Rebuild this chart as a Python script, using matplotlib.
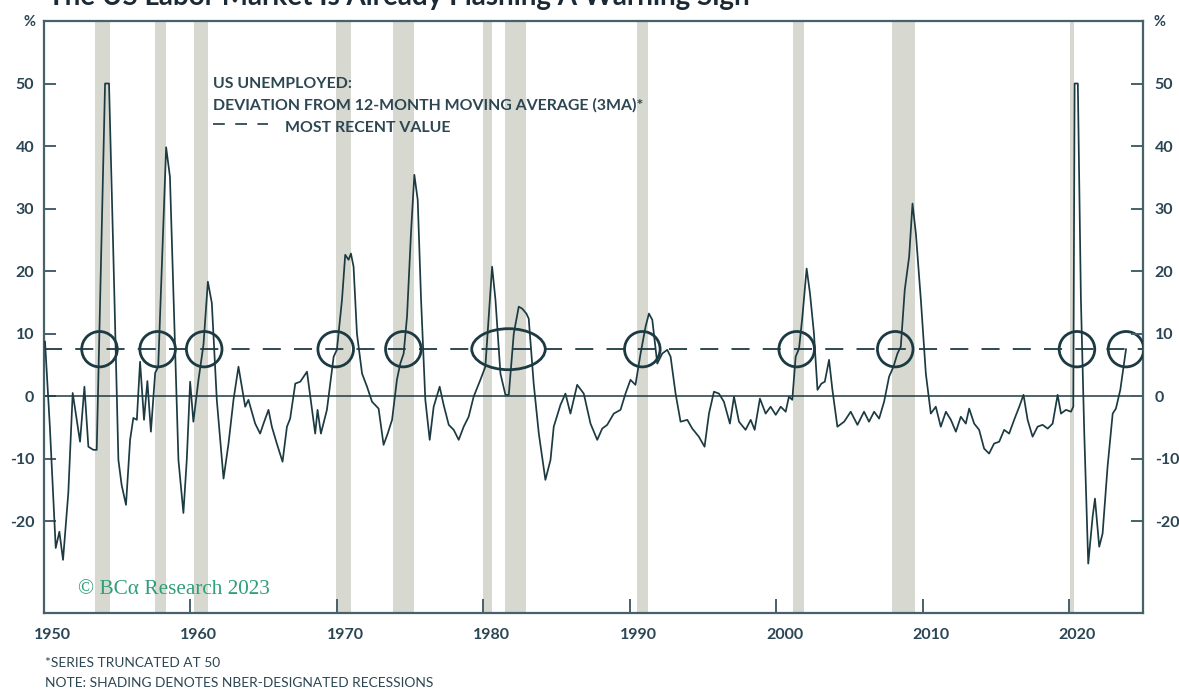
import matplotlib
matplotlib.use("Agg")
import matplotlib.pyplot as plt
from matplotlib.patches import Ellipse
from matplotlib.lines import Line2D
from matplotlib.transforms import ScaledTranslation

# US unemployed: deviation from 12-month moving average (3MA), % ; truncated at 50
years = [
    1950.07, 1950.40, 1950.80, 1951.05, 1951.30, 1951.66, 1951.96, 1952.46, 1952.76, 1953.03,
    1953.37, 1953.60, 1954.17, 1954.44, 1954.74, 1955.08, 1955.30, 1955.60, 1955.88, 1956.10,
    1956.34, 1956.56, 1956.83, 1957.06, 1957.30, 1957.59, 1957.80, 1958.34, 1958.60, 1958.84,
    1959.18, 1959.52, 1959.75, 1959.98, 1960.20, 1960.55, 1960.89, 1961.19, 1961.46, 1961.80,
    1962.26, 1962.60, 1962.94, 1963.28, 1963.74, 1963.96, 1964.42, 1964.76, 1964.99, 1965.33,
    1965.56, 1965.90, 1966.29, 1966.59, 1966.81, 1967.16, 1967.50, 1967.96, 1968.52, 1968.68,
    1968.91, 1969.32, 1969.78, 1970.00, 1970.35, 1970.57, 1970.80, 1970.96, 1971.14, 1971.37,
    1971.72, 1972.06, 1972.40, 1972.85, 1973.19, 1973.47, 1973.77, 1974.10, 1974.33, 1974.56,
    1974.79, 1975.06, 1975.29, 1975.52, 1975.75, 1976.04, 1976.34, 1976.61, 1977.02, 1977.29,
    1977.64, 1977.98, 1978.32, 1978.66, 1979.00, 1979.34, 1979.80, 1980.14, 1980.37, 1980.60,
    1980.83, 1981.17, 1981.51, 1981.74, 1982.08, 1982.42, 1982.65, 1982.94, 1983.10, 1983.44,
    1983.79, 1984.24, 1984.59, 1984.81, 1985.27, 1985.61, 1985.95, 1986.41, 1986.86, 1987.32,
    1987.78, 1988.12, 1988.46, 1988.91, 1989.37, 1989.71, 1990.05, 1990.39, 1990.74, 1991.08,
    1991.31, 1991.54, 1991.88, 1992.22, 1992.56, 1992.79, 1993.13, 1993.47, 1993.93, 1994.27,
    1994.72, 1995.11, 1995.41, 1995.75, 1996.09, 1996.43, 1996.84, 1997.12, 1997.46, 1997.91,
    1998.26, 1998.53, 1998.89, 1999.28, 1999.62, 1999.97, 2000.31, 2000.65, 2000.87, 2001.10,
    2001.33, 2001.56, 2001.79, 2002.08, 2002.31, 2002.58, 2002.82, 2003.09, 2003.32, 2003.61,
    2003.84, 2004.18, 2004.64, 2005.09, 2005.55, 2006.00, 2006.34, 2006.69, 2007.03, 2007.37,
    2007.71, 2008.01, 2008.28, 2008.51, 2008.78, 2009.08, 2009.31, 2009.54, 2009.88, 2010.22,
    2010.56, 2010.90, 2011.24, 2011.59, 2011.93, 2012.27, 2012.61, 2012.95, 2013.18, 2013.52,
    2013.86, 2014.20, 2014.54, 2014.88, 2015.23, 2015.57, 2015.91, 2016.25, 2016.60, 2016.89,
    2017.17, 2017.51, 2017.85, 2018.19, 2018.54, 2018.88, 2019.22, 2019.45, 2019.79, 2020.13,
    2020.29, 2020.38, 2020.60, 2020.81, 2021.04, 2021.31, 2021.61, 2021.77, 2022.06, 2022.29,
    2022.63, 2022.98, 2023.20, 2023.50, 2023.89,
]
deviation = [
    8.7, -4.9, -24.3, -21.7, -26.2, -15.5, 0.5, -7.3, 1.5, -8.1,
    -8.6, -8.6, 50.0, 50.0, 22.3, -10.2, -14.2, -17.4, -7.0, -3.5,
    -3.8, 5.5, -3.8, 2.4, -5.7, 3.7, 4.7, 39.8, 35.1, 16.5,
    -10.2, -18.7, -10.2, 2.3, -4.1, 2.6, 8.2, 18.3, 14.9, -0.6,
    -13.2, -7.6, -0.6, 4.7, -1.7, -0.6, -4.4, -6.0, -4.4, -2.2,
    -4.9, -7.6, -10.5, -4.9, -3.6, 2.0, 2.3, 3.9, -6.0, -2.2,
    -6.0, -2.2, 6.3, 7.4, 15.4, 22.6, 21.8, 22.8, 20.7, 10.0,
    3.6, 1.5, -0.9, -2.0, -7.8, -6.0, -3.8, 2.6, 5.2, 6.8,
    12.7, 26.0, 35.4, 31.4, 15.4, -0.6, -7.0, -1.7, 1.5, -1.4,
    -4.6, -5.4, -7.0, -4.9, -3.3, -0.1, 2.6, 4.7, 12.7, 20.7,
    15.4, 3.6, 0.2, 0.2, 10.0, 14.3, 14.0, 13.2, 12.4, 2.0,
    -6.0, -13.4, -10.2, -4.9, -1.4, 0.4, -2.8, 1.8, 0.4, -4.4,
    -7.0, -5.2, -4.6, -2.8, -2.2, 0.4, 2.6, 1.8, 6.8, 11.1,
    13.2, 12.2, 5.2, 6.8, 7.4, 6.3, 0.4, -4.1, -3.8, -5.2,
    -6.5, -8.1, -2.8, 0.7, 0.4, -0.9, -4.4, -0.1, -4.1, -5.4,
    -3.8, -5.4, -0.4, -2.8, -1.7, -3.0, -1.7, -2.5, -0.1, -0.6,
    6.3, 7.6, 12.7, 20.4, 16.4, 10.0, 1.0, 2.0, 2.3, 5.8,
    1.0, -4.9, -4.1, -2.5, -4.6, -2.5, -4.1, -2.5, -3.6, -0.9,
    3.1, 4.7, 6.8, 7.9, 17.0, 22.3, 30.8, 26.0, 15.4, 3.6,
    -2.8, -1.7, -4.9, -2.5, -3.8, -5.7, -3.3, -4.4, -2.0, -4.4,
    -5.4, -8.4, -9.2, -7.6, -7.3, -5.4, -6.0, -3.8, -1.7, 0.2,
    -3.8, -6.5, -4.9, -4.6, -5.2, -4.4, 0.2, -2.8, -2.2, -2.5,
    -1.7, 50.0, 50.0, 15.4, -6.0, -26.8, -19.3, -16.4, -24.1, -22.0,
    -11.3, -2.8, -2.0, 1.0, 7.5,
]

# NBER recessions (peak, trough) in decimal years
recession_start = [1953.50, 1957.58, 1960.25, 1969.92, 1973.83, 1980.00, 1981.50, 1990.50, 2001.17, 2007.92, 2020.08]
recession_end = [1954.50, 1958.33, 1961.17, 1970.96, 1975.30, 1980.58, 1982.92, 1991.25, 2001.92, 2009.50, 2020.33]

# points where the series breaks above the latest reading
crossings = [1953.79, 1957.76, 1960.94, 1969.92, 1974.54, 1990.86, 2001.40, 2008.13, 2020.54, 2023.89]
wide_crossing = 1981.72

x_ticks = [1950, 1960, 1970, 1980, 1990, 2000, 2010, 2020]
y_ticks = [-20, -10, 0, 10, 20, 30, 40, 50]

LINE = "#1c3a42"
AXIS = "#46616b"
LABEL = "#2a4553"
SHADE = "#d7d8cf"
FONT = "Lato"

plt.rcParams["axes.unicode_minus"] = False
plt.rcParams["lines.scale_dashes"] = False
plt.rcParams["font.family"] = [FONT, "DejaVu Sans"]

W, H = 1179, 689
fig = plt.figure(figsize=(W / 100, H / 100), dpi=100)
fig.patch.set_facecolor("white")

left, right, top, bottom = 44, 1143, 21, 613
ax = fig.add_axes([left / W, 1 - bottom / H, (right - left) / W, (bottom - top) / H])
ax.set_xlim(1950, 2025.05)
ax.set_ylim(-34.7, 60)

for s, e in zip(recession_start, recession_end):
    ax.axvspan(s, e, color=SHADE, lw=0, zorder=0)

most_recent = deviation[-1]
ax.axhline(0, color=LINE, lw=1.1, zorder=2)
ax.axhline(most_recent, color=LINE, lw=1.3, dashes=(13, 9.5), zorder=2)
ax.plot(years, deviation, color=LINE, lw=1.25, zorder=3, solid_joinstyle="round")

for c in crossings:
    ax.add_patch(Ellipse((c, most_recent), width=2.43, height=5.66, fill=False,
                         ec=LINE, lw=2.0, zorder=4))
ax.add_patch(Ellipse((wide_crossing, most_recent), width=5.02, height=6.56, fill=False,
                     ec=LINE, lw=2.0, zorder=4))

for sp in ax.spines.values():
    sp.set_color(AXIS)
    sp.set_linewidth(1.6)

TICK_SIZE = 11.5

ax.set_xticks(x_ticks)
ax.set_xticklabels([str(v) for v in x_ticks])
ax.tick_params(axis="x", direction="in", length=10, width=1.4, color=AXIS, pad=11,
               labelsize=TICK_SIZE, labelcolor=LABEL)
offset = ScaledTranslation(6 / 72, 0, fig.dpi_scale_trans)
for lab in ax.get_xticklabels():
    lab.set_transform(lab.get_transform() + offset)
    lab.set_fontweight("bold")

ax.set_yticks(y_ticks)
ax.set_yticklabels([str(v) for v in y_ticks])
ax.tick_params(axis="y", direction="in", length=8.5, width=1.4, color=AXIS, pad=7,
               labelsize=TICK_SIZE, labelcolor=LABEL, left=True, right=False)
for lab in ax.get_yticklabels():
    lab.set_fontweight("bold")

ax_r = ax.twinx()
ax_r.set_ylim(ax.get_ylim())
ax_r.set_yticks(y_ticks)
ax_r.set_yticklabels([str(v) for v in y_ticks])
ax_r.tick_params(axis="y", direction="in", length=8.5, width=1.4, color=AXIS, pad=8.5,
                 labelsize=TICK_SIZE, labelcolor=LABEL)
for lab in ax_r.get_yticklabels():
    lab.set_fontweight("bold")
for sp in ax_r.spines.values():
    sp.set_visible(False)


def fx(px):
    return px / W


def fy(py):
    return 1 - py / H


fig.text(fx(29), fy(22), "%", ha="center", va="center", fontsize=10.5, fontweight="bold", color=LABEL)
fig.text(fx(1160), fy(22), "%", ha="center", va="center", fontsize=10.5, fontweight="bold", color=LABEL)

fig.text(fx(48), fy(5), "The US Labor Market Is Already Flashing A Warning Sign",
         ha="left", va="baseline", fontsize=20, fontweight="bold", color="#1b2a35")

legend_kw = dict(ha="left", va="baseline", fontsize=11.4, fontweight="bold", color="#2c4652")
fig.text(fx(213), fy(88.5), "US UNEMPLOYED:", **legend_kw)
fig.text(fx(213), fy(110), "DEVIATION FROM 12-MONTH MOVING AVERAGE (3MA)*", **legend_kw)
fig.text(fx(285), fy(131.5), "MOST RECENT VALUE", **legend_kw)
fig.add_artist(Line2D([fx(213), fx(268)], [fy(124), fy(124)], color=LINE, lw=1.2,
                      dashes=(8.5, 7.5), transform=fig.transFigure))

fig.text(fx(78), fy(594), "\u00a9 BC\u03b1 Research 2023", ha="left", va="baseline",
         fontsize=15.3, family=["Liberation Serif", "DejaVu Serif"], color="#2f9f78")

note_kw = dict(ha="left", va="baseline", fontsize=9.9, color="#2c4652")
fig.text(fx(45), fy(667), "*SERIES TRUNCATED AT 50", **note_kw)
fig.text(fx(45), fy(687), "NOTE: SHADING DENOTES NBER-DESIGNATED RECESSIONS", **note_kw)

fig.savefig("out.png", dpi=100, facecolor="white")
